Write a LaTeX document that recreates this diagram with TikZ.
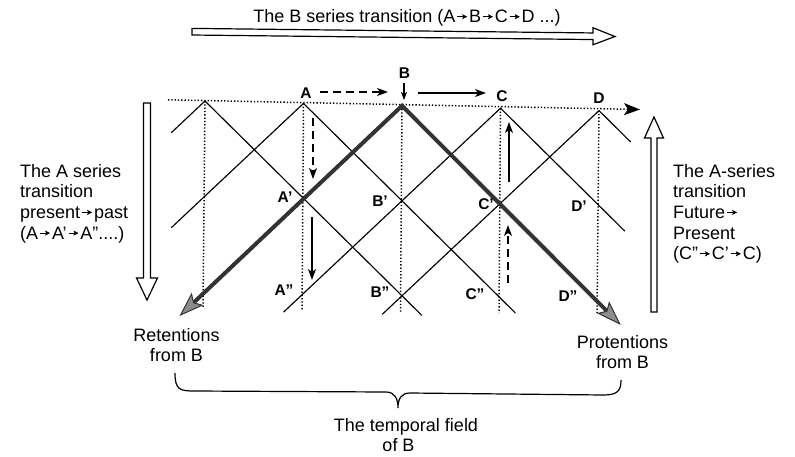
\documentclass[tikz,border=0pt]{standalone}
\usepackage{fontspec}
\setmainfont{Liberation Sans}
\usetikzlibrary{arrows.meta}
\newcommand{\sar}{\hspace{1.5pt}\tikz[baseline=0pt]\draw[line width=0.8pt,-{Stealth[length=5pt,width=5pt,inset=1pt]}] (0pt,6pt) -- (10pt,6pt);\hspace{1.5pt}}
\begin{document}
\begin{tikzpicture}[x=1pt,y=-1pt,
  latline/.style={line width=1.15pt, line cap=round},
  dotline/.style={line width=1.5pt, dash pattern=on 1.3pt off 2pt},
  thickline/.style={line width=4pt, draw=black!80, line join=miter},
  smallarr/.style={line width=1.2pt, -{Stealth[length=11pt,width=8pt,inset=3pt]}},
  dashedarr/.style={smallarr, dash pattern=on 8pt off 5pt},
  bigarrow/.style={line width=1.2pt, draw=black, fill=white, line join=miter},
  lbl/.style={font=\fontsize{15.5}{15.5}\selectfont\bfseries, inner sep=0pt, text height=11pt, text depth=0pt},
  txt/.style={font=\fontsize{18}{20.7}\selectfont, inner sep=0pt, anchor=base west},
  ctxt/.style={font=\fontsize{18}{20.7}\selectfont, inner sep=0pt, anchor=base}]
\path[use as bounding box] (0,0) rectangle (795,456);

% lattice points
\coordinate (P0) at (205,101);
\coordinate (P1) at (303.5,103.4);
\coordinate (P2) at (402,105.8);
\coordinate (P3) at (500.5,108.2);
\coordinate (P4) at (599,110.6);
\coordinate (L0a) at (171.5,132.5);
\coordinate (L0b) at (421.7,315.3);
\coordinate (L1a) at (171.5,227.5);
\coordinate (L1b) at (515.3,312.9);
\coordinate (L2a) at (179.4,316.1);
\coordinate (L2b) at (620.7,324.9);
\coordinate (L3a) at (283.8,311.9);
\coordinate (L3b) at (624.6,230.9);
\coordinate (L4a) at (382.3,314.3);
\coordinate (L4b) at (630.5,141.8);
\coordinate (V0) at (203,308);
\coordinate (V1) at (302,310);
\coordinate (V2) at (400.5,312);
\coordinate (V3) at (499,313);
\coordinate (V4) at (597,313);
\coordinate (H0) at (168,99.8);
\coordinate (H1) at (640,109.5);

% dotted lines
\draw[dotline, -{Stealth[length=16pt,width=12pt,inset=4pt]}] (H0) -- (H1);
\foreach \i in {0,...,4} { \draw[dotline] (P\i) -- (V\i); }

% thin light-cone lines
\draw[latline] (L0a) -- (P0) -- (L0b);
\draw[latline] (L1a) -- (P1) -- (L1b);
\draw[latline] (L3a) -- (P3) -- (L3b);
\draw[latline] (L4a) -- (P4) -- (L4b);

% thick lines of B
\draw[thickline, {Stealth[length=25pt,width=17pt,inset=5pt,fill=black!45,line width=1pt]}-{Stealth[length=25pt,width=17pt,inset=5pt,fill=black!45,line width=1pt]}] (L2a) -- (P2) -- (L2b);

% small arrows
\coordinate (s1a) at (320,92); \coordinate (s1b) at (388,92);
\coordinate (s2a) at (404,83); \coordinate (s2b) at (404,100);
\coordinate (s3a) at (418,93); \coordinate (s3b) at (486,93);
\coordinate (s4a) at (313,118); \coordinate (s4b) at (313,179);
\coordinate (s5a) at (312,217); \coordinate (s5b) at (312,280);
\coordinate (s6a) at (509,182); \coordinate (s6b) at (509,122);
\coordinate (s7a) at (508,283); \coordinate (s7b) at (508,225);
\draw[dashedarr] (s1a) -- (s1b);
\draw[line width=1.2pt, -{Stealth[length=8pt,width=6pt,inset=2pt]}] (s2a) -- (s2b);
\draw[smallarr] (s3a) -- (s3b);
\draw[dashedarr] (s4a) -- (s4b);
\draw[smallarr] (s5a) -- (s5b);
\draw[smallarr] (s6a) -- (s6b);
\draw[dashedarr] (s7a) -- (s7b);

% labels
\node[lbl] (A) at (306,92.5) {A};
\node[lbl] (B) at (404.5,73) {B};
\node[lbl] (C) at (502,96) {C};
\node[lbl] (D) at (599,97.5) {D};
\node[lbl] (A1) at (285,197) {A'};
\node[lbl] (B1) at (380,201) {B'};
\node[lbl] (C1) at (486,204) {C'};
\node[lbl] (D1) at (579,205.5) {D'};
\node[lbl] (A2) at (284,290) {A"};
\node[lbl] (B2) at (380,292) {B"};
\node[lbl] (C2) at (475,294) {C"};
\node[lbl] (D2) at (568,296) {D"};

% big open arrows
\draw[bigarrow] (192,28.4) -- (593,32.95) -- (593,27.75) -- (615,36.5) -- (593,44.75) -- (593,39.55) -- (192,35.0) -- cycle;
\draw[bigarrow] (143.5,103) -- (150.5,103) -- (150.5,278) -- (157.5,278) -- (147,300) -- (136.5,278) -- (143.5,278) -- cycle;
\draw[bigarrow] (651,312) -- (657,312) -- (657,138) -- (663.5,138) -- (654,117) -- (644.5,138) -- (651,138) -- cycle;

% texts
\node[ctxt] (top) at (407,22.7) {The B series transition (A\sar B\sar C\sar D ...)};
\node[txt] (l1) at (20,177) {The A series};
\node[txt] (l2) at (20,197.7) {transition};
\node[txt] (l3) at (20,218.4) {present\sar past};
\node[txt] (l4) at (20,239.1) {(A\sar A'\sar A"....)};
\node[txt] (r1) at (673,177) {The A-series};
\node[txt] (r2) at (673,197.7) {transition};
\node[txt] (r3) at (673,218.4) {Future\sar};
\node[txt] (r4) at (673,239.1) {Present};
\node[txt] (r5) at (673,259.8) {(C"\sar C'\sar C)};
\node[ctxt] (ret1) at (176.5,341) {Retentions};
\node[ctxt] (ret2) at (176.5,361.7) {from B};
\node[ctxt] (pro1) at (622.5,348) {Protentions};
\node[ctxt] (pro2) at (622.5,368.5) {from B};
\node[ctxt] (tf1) at (406,431) {The temporal field};
\node[ctxt] (tf2) at (398.5,451.7) {of B};

% brace
\draw[line width=1.2pt] (175,373) .. controls (175,390) and (180,391) .. (195,391) -- (386,392)
  .. controls (395,392) and (398,399) .. (398,408)
  .. controls (398,399) and (401,393) .. (410,393) -- (604,395)
  .. controls (618,395) and (621,390) .. (621,380);
\end{tikzpicture}
\end{document}
